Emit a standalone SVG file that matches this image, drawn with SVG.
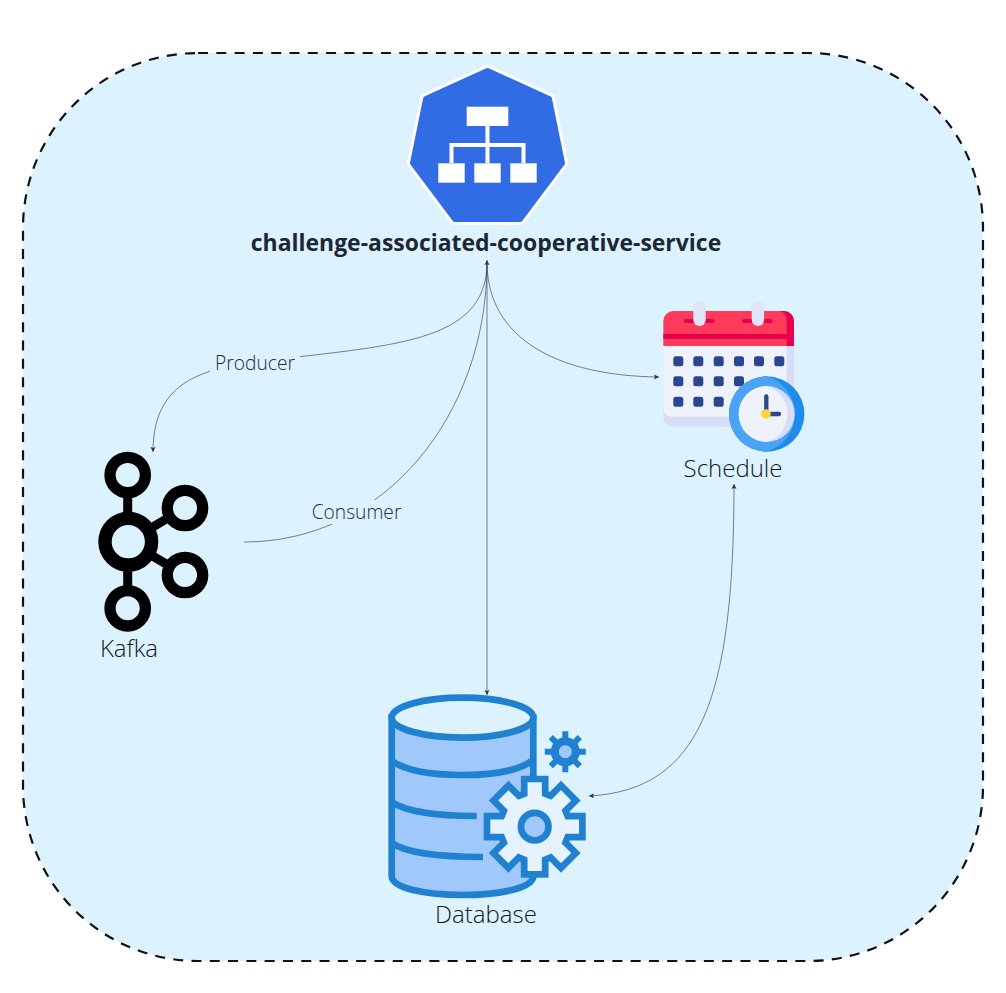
<svg xmlns="http://www.w3.org/2000/svg" width="1006" height="993" viewBox="0 0 1006 993">
<style>
text{font-family:"Open Sans","Noto Sans",sans-serif;fill:#1c2733;text-anchor:middle}
.lbl{font-size:24px;font-weight:300;fill:#111a22}
.edge-lbl{font-size:19.200px;font-weight:300;fill:#1f2a35}
.edge{fill:none;stroke:#3a3f45;stroke-width:.65}
.k{fill:#dcf2ff;stroke:#000}
.db{stroke:#2181d1;stroke-width:6.700;fill:none}
.sq{fill:#2b4590}
.white{fill:#fff}
</style>
<defs>
<marker id="end" markerUnits="userSpaceOnUse" markerWidth="7" markerHeight="7" refX="5" refY="2.500" orient="auto"><path d="M0,0L5,2.500L0,5L1,2.500Z" fill="#2e3338"/></marker>
<marker id="start" markerUnits="userSpaceOnUse" markerWidth="7" markerHeight="7" refX="0" refY="2.500" orient="auto"><path d="M5,0L0,2.500L5,5L4,2.500Z" fill="#2e3338"/></marker>
</defs>
<rect id="boundary" x="23" y="53" width="960" height="908" rx="175" ry="175" fill="#dcf2ff" stroke="#111" stroke-width="2.200" stroke-dasharray="10 8.300"/>
<g id="connectors">
<path class="edge" marker-start="url(#start)" marker-end="url(#end)" d="M487,260V695"/>
<path class="edge" marker-end="url(#end)" d="M487,262C487,345 390,345 255,362C190,370 153,390 153,452"/>
<path class="edge" d="M244,542C385,542 487,415 487,262"/>
<path class="edge" marker-end="url(#end)" d="M487,262C487,340 560,376 659,377"/>
<path class="edge" marker-start="url(#start)" marker-end="url(#end)" d="M734,484C734,700 700,790 589,796"/>
<rect x="210" y="350" width="90" height="26" fill="#dcf2ff"/>
<text class="edge-lbl" x="255" y="370">Producer</text>
<rect x="306" y="500" width="101" height="24" fill="#dcf2ff"/>
<text class="edge-lbl" x="356.500" y="519">Consumer</text>
</g>
<g id="service">
<path d="M487.500,71L549,99L562,163L520,219L455,219L413,163L426,99Z" fill="#fff" stroke="#fff" stroke-width="12" stroke-linejoin="round"/>
<path d="M487.500,71L549,99L562,163L520,219L455,219L413,163L426,99Z" fill="#326ce5" stroke="#326ce5" stroke-width="6" stroke-linejoin="round"/>
<rect class="white" x="466.700" y="106.700" width="41.600" height="19.300"/>
<rect class="white" x="438.300" y="163.300" width="26.400" height="19.400"/>
<rect class="white" x="474.300" y="163.300" width="26.400" height="19.400"/>
<rect class="white" x="510.300" y="163.300" width="26.400" height="19.400"/>
<path d="M487.500,126V163M451.500,163V145H523.500V163" fill="none" stroke="#fff" stroke-width="4"/>
<text x="486" y="251" font-size="22.950" font-weight="700">challenge-associated-cooperative-service</text>
</g>
<g id="schedule">
<rect x="663.300" y="330" width="130.700" height="96.700" rx="10" fill="#d7dcf8"/>
<rect x="663.300" y="330" width="123.400" height="86.700" rx="8" fill="#eef3fb"/>
<path d="M663.300,346V321a10,10 0 0 1 10,-10H784a10,10 0 0 1 10,10V346Z" fill="#ff3b5c"/>
<path d="M780,311H784a10,10 0 0 1 10,10V346H786.700V320a9,9 0 0 0 -6.700,-9Z" fill="#e6004f"/>
<rect x="663.300" y="334" width="130.700" height="5" fill="#e6004f"/>
<path d="M686,321H712.700M744,321H770.700" stroke="#e6004f" stroke-width="4" stroke-linecap="round"/>
<rect x="693.300" y="301" width="12.400" height="25" rx="6.200" fill="#dfe4f8"/>
<rect x="751.700" y="301" width="12.400" height="25" rx="6.200" fill="#dfe4f8"/>
<g class="sq">
<rect x="673.300" y="356.300" width="10" height="10" rx="2.500"/><rect x="693.300" y="356.300" width="10" height="10" rx="2.500"/><rect x="713.700" y="356.300" width="10" height="10" rx="2.500"/><rect x="734" y="356.300" width="10" height="10" rx="2.500"/><rect x="754" y="356.300" width="10" height="10" rx="2.500"/><rect x="774.300" y="356.300" width="10" height="10" rx="2.500"/>
<rect x="673.300" y="376.300" width="10" height="10" rx="2.500"/><rect x="693.300" y="376.300" width="10" height="10" rx="2.500"/><rect x="713.700" y="376.300" width="10" height="10" rx="2.500"/><rect x="734" y="376.300" width="10" height="10" rx="2.500"/>
<rect x="673.300" y="396.700" width="10" height="10" rx="2.500"/><rect x="693.300" y="396.700" width="10" height="10" rx="2.500"/><rect x="713.700" y="396.700" width="10" height="10" rx="2.500"/>
</g>
<circle cx="766.700" cy="414" r="37.700" fill="#1f8bea"/>
<path d="M766.700,376.300A37.700,37.700 0 0 0 766.700,451.700A39.300,39.300 0 0 0 766.700,376.300Z" fill="#4ba3f5"/>
<circle cx="766.700" cy="414" r="28" fill="#d7dcf8"/>
<path d="M766.700,386A28,28 0 0 0 766.700,442A29.300,29.300 0 0 0 766.700,386Z" fill="#eef3fb"/>
<path d="M766.300,396.500V414H779" fill="none" stroke="#2b4590" stroke-width="4.300" stroke-linecap="round"/>
<circle cx="766" cy="414" r="4.800" fill="#fcd535"/>
<text class="lbl" x="733" y="477">Schedule</text>
</g>
<g id="kafka">
<path d="M127.700,475V608M128,541.700L185,508M128,541.700L185,575" fill="none" stroke="#000" stroke-width="9"/>
<circle class="k" cx="128.300" cy="541.700" r="23.300" stroke-width="13.400"/>
<circle class="k" cx="127.700" cy="475" r="17.700" stroke-width="11.300"/>
<circle class="k" cx="185" cy="508" r="17.700" stroke-width="11.300"/>
<circle class="k" cx="185" cy="575" r="17.700" stroke-width="11.300"/>
<circle class="k" cx="127.700" cy="608.300" r="17.700" stroke-width="11.300"/>
<text class="lbl" x="129" y="657">Kafka</text>
</g>
<g id="database">
<path class="db" style="fill:#a0c8fa" d="M391.700,717.700V876C391.700,888 425,895 462.500,895C500,895 533.300,888 533.300,876V717.700Z"/>
<ellipse class="db" style="fill:#dcf2ff" cx="462.500" cy="717.700" rx="70.800" ry="20"/>
<path class="db" d="M391.700,761C405,770 430,775 462.500,775C495,775 520,770 533.300,760"/>
<path class="db" d="M391.700,802C405,811 430,816 476.700,816"/>
<path class="db" d="M391.700,843C405,852 435,857 483,857"/>
<path transform="translate(534.700,826.700)" stroke="#2181d1" stroke-width="6.700" fill="#e4f3ff" d="M30.800,15.900L41.200,26.300L26.300,41.200L15.900,30.800L10.500,33L10.500,47.700L-10.500,47.700L-10.500,33L-15.900,30.800L-26.300,41.200L-41.200,26.300L-30.800,15.900L-33,10.500L-47.700,10.500L-47.700,-10.500L-33,-10.500L-30.800,-15.900L-41.200,-26.300L-26.300,-41.200L-15.900,-30.800L-10.500,-33L-10.500,-47.700L10.500,-47.700L10.500,-33L15.900,-30.800L26.300,-41.200L41.200,-26.300L30.800,-15.900L33,-10.500L47.700,-10.500L47.700,10.500L33,10.500Z"/>
<circle cx="534.700" cy="826.700" r="13.800" fill="#a0c8fa" stroke="#2181d1" stroke-width="6.700"/>
<g transform="translate(565.300,751.700)" stroke="#2181d1">
<path stroke-width="6" d="M0,-20.500V20.500M-20.500,0H20.500M-14.500,-14.500L14.500,14.500M-14.500,14.500L14.500,-14.500"/>
<circle r="10.500" fill="#a0c8fa" stroke-width="8"/>
</g>
<text class="lbl" x="486" y="923">Database</text>
</g>
</svg>
